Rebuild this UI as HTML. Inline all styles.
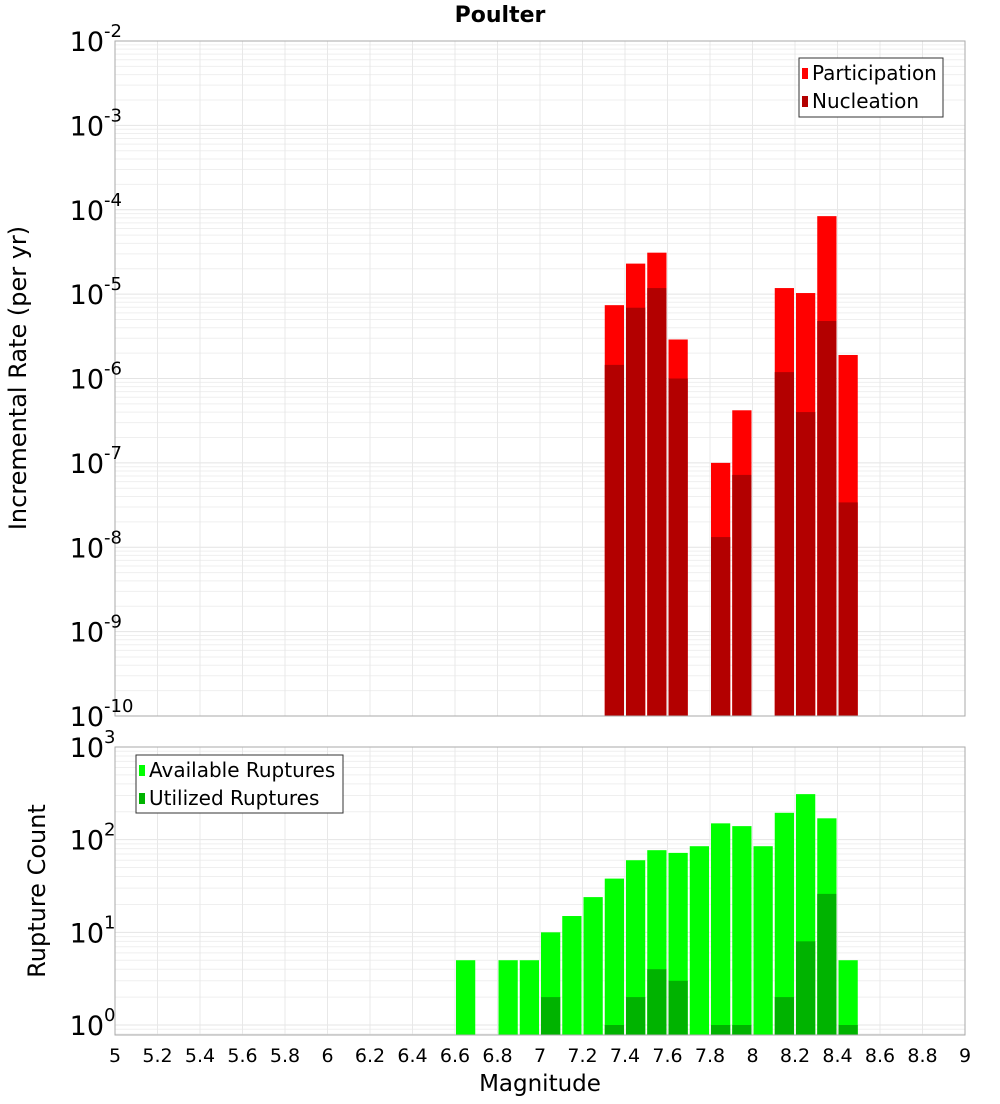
<!DOCTYPE html>
<html><head><meta charset="utf-8"><style>
body{margin:0;background:#fff;font-family:"DejaVu Sans","Liberation Sans",sans-serif}
svg text{font-family:"DejaVu Sans","Liberation Sans",sans-serif}
</style></head><body>
<svg id="c" width="1000" height="1100" xmlns="http://www.w3.org/2000/svg"></svg>
<script>
const mags=[7.35,7.45,7.55,7.65,7.85,7.95,8.15,8.25,8.35,8.45];
const participation=[7.4e-6,2.3e-5,3.1e-5,2.9e-6,1.0e-7,4.2e-7,1.18e-5,1.03e-5,8.4e-5,1.9e-6];
const nucleation=[1.45e-6,6.9e-6,1.18e-5,1.0e-6,1.32e-8,7.2e-8,1.19e-6,4.0e-7,4.8e-6,3.4e-8];
const countMags=[6.65,6.85,6.95,7.05,7.15,7.25,7.35,7.45,7.55,7.65,7.75,7.85,7.95,8.05,8.15,8.25,8.35,8.45];
const available=[5,5,5,10,15,24,38,60,77,72,85,150,140,85,195,310,170,5];
const utilized=[0,0,0,2,0,0,1,2,4,3,0,1,1,0,2,8,26,1];
const xTicks=[5,5.2,5.4,5.6,5.8,6,6.2,6.4,6.6,6.8,7,7.2,7.4,7.6,7.8,8,8.2,8.4,8.6,8.8,9];

const svg=document.getElementById('c');
const NS='http://www.w3.org/2000/svg';
function el(t,a,p){const e=document.createElementNS(NS,t);for(const k in a)e.setAttribute(k,a[k]);(p||svg).appendChild(e);return e;}
const X0=115,X1=965;
const xs=m=>X0+(m-5)/4*(X1-X0);
const T={top:41,bot:716,lmax:-2,lmin:-10};
const B={top:747,bot:1035,lmax:3,lmin:Math.log10(0.78)};
function ys(P,v){return P.top+(P.lmax-Math.log10(v))/(P.lmax-P.lmin)*(P.bot-P.top);}

function grid(P,name){
  const g=el('g',{});
  
  
  for(let d=Math.floor(P.lmin);d<P.lmax;d++){for(let k=1;k<10;k++){const v=k*Math.pow(10,d);const y=ys(P,v);if(y<P.top-0.1||y>P.bot)continue;el('line',{x1:X0,x2:X1,y1:y,y2:y,stroke:k==1?'#e4e4e4':'#efefef','stroke-width':1},g);}}
  xTicks.forEach(t=>{const x=xs(t);el('line',{x1:x,x2:x,y1:P.top,y2:P.bot,stroke:'#e8e8e8','stroke-width':1},g);});
}
function frame(P,name){const r=el('rect',{x:X0,y:P.top,width:X1-X0,height:P.bot-P.top,fill:'none',stroke:'#aaa','stroke-width':1});}
function yLabels(P,name){
  for(let d=Math.ceil(P.lmin);d<=P.lmax;d++){const y=ys(P,Math.pow(10,d));
    const t=el('text',{x:104,y:y+10,'text-anchor':'end','font-size':27});
    
    
    t.textContent='10';
    const s=el('text',{x:104,y:y-4,'font-size':18});
    
    
    s.textContent=String(d);}
}
function bar(P,m,v,fill,name){const x=xs(m-0.05)+1,w=xs(m+0.05)-xs(m-0.05)-2;const y=ys(P,v);
  const r=el('rect',{x:x,y:y,width:w,height:P.bot-y,fill:fill});
  
  }

grid(T,'top');grid(B,'bottom');
mags.forEach((m,i)=>{bar(T,m,participation[i],'#ff0000','participation-bar');bar(T,m,nucleation[i],'#b30000','nucleation-bar');});
countMags.forEach((m,i)=>{bar(B,m,available[i],'#00ff00','available-bar');if(utilized[i]>0)bar(B,m,utilized[i],'#00b300','utilized-bar');});
frame(T,'top');frame(B,'bottom');
yLabels(T,'top');yLabels(B,'bottom');
xTicks.forEach(t=>{const tx=el('text',{x:xs(t),y:1062,'text-anchor':'middle','font-size':19});
  
  
  tx.textContent=String(t);});

function txt(a,s,name){const t=el('text',a);t.textContent=s;return t;}
txt({x:500,y:22,'text-anchor':'middle','font-size':22,'font-weight':'bold'},'Poulter','chart-title');
txt({x:540,y:1091,'text-anchor':'middle','font-size':23},'Magnitude','x-axis-title');
txt({x:26,y:378,'text-anchor':'middle','font-size':24,transform:'rotate(-90 26 378)'},'Incremental Rate (per yr)','top-y-axis-title');
txt({x:45,y:891,'text-anchor':'middle','font-size':24,transform:'rotate(-90 45 891)'},'Rupture Count','bottom-y-axis-title');

function legend(x,y,w,h,items,name){const g=el('g',{});
  el('rect',{x:x,y:y,width:w,height:h,fill:'#fff',stroke:'#333','stroke-width':1},g);
  items.forEach((it,i)=>{const cy=y+15+i*28;el('rect',{x:x+3,y:cy-5,width:6,height:11,fill:it[1]},g);
    const t=el('text',{x:x+13,y:cy+7,'font-size':20},g);t.textContent=it[0];});}
legend(799,58,144,59,[['Participation','#ff0000'],['Nucleation','#b30000']],'top-legend');
legend(136,755,207,58,[['Available Ruptures','#00ff00'],['Utilized Ruptures','#00b300']],'bottom-legend');
</script>
</body></html>
